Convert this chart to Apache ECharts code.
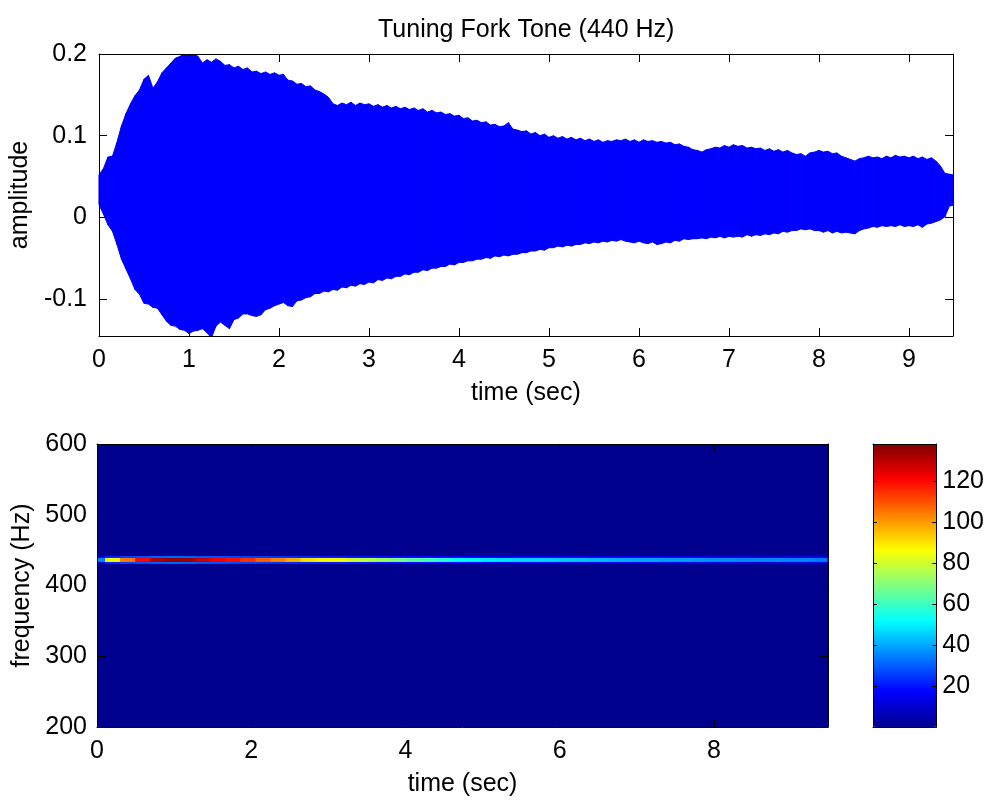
<!DOCTYPE html>
<html>
<head>
<meta charset="utf-8">
<script src="https://cdn.jsdelivr.net/npm/echarts@6/dist/echarts.min.js"></script>
<style>
  html, body { margin: 0; padding: 0; background: #ffffff; }
  #chart { width: 987px; height: 801px; }
</style>
</head>
<body>
<div id="chart"></div>
<script>
// ---------- DATA ----------
const titleText = 'Tuning Fork Tone (440 Hz)';
const timeLabel = 'time (sec)';
const ampLabel = 'amplitude';
const freqLabel = 'frequency (Hz)';

// waveform envelope, one sample every 0.05 s from 0 to 9.5 s
const envStep = 0.05;
const envUpper = [
  0.052,0.060,0.074,0.075,0.092,0.112,0.127,0.139,0.149,0.156,0.169,0.174,0.158,0.166,0.177,0.183,0.189,0.195,0.197,0.201,
  0.200,0.202,0.197,0.189,0.193,0.190,0.194,0.191,0.186,0.187,0.183,0.185,0.181,0.183,0.178,0.179,0.176,0.178,0.175,0.177,
  0.174,0.175,0.168,0.167,0.163,0.164,0.160,0.161,0.156,0.154,0.151,0.147,0.139,0.137,0.140,0.138,0.141,0.137,0.140,0.138,
  0.139,0.136,0.138,0.135,0.137,0.134,0.136,0.133,0.135,0.132,0.134,0.131,0.133,0.129,0.131,0.128,0.129,0.126,0.127,0.124,
  0.125,0.121,0.122,0.118,0.119,0.116,0.117,0.113,0.114,0.111,0.112,0.116,0.108,0.107,0.105,0.106,0.102,0.104,0.100,0.102,
  0.098,0.100,0.097,0.099,0.096,0.098,0.095,0.097,0.094,0.096,0.093,0.095,0.092,0.094,0.093,0.095,0.094,0.096,0.093,0.095,
  0.092,0.095,0.093,0.094,0.092,0.093,0.091,0.092,0.089,0.090,0.087,0.086,0.083,0.082,0.080,0.083,0.084,0.086,0.085,0.088,
  0.086,0.089,0.087,0.088,0.085,0.086,0.084,0.085,0.082,0.084,0.081,0.083,0.080,0.082,0.079,0.077,0.078,0.075,0.079,0.080,
  0.082,0.080,0.081,0.078,0.079,0.075,0.073,0.071,0.069,0.072,0.073,0.075,0.073,0.074,0.072,0.075,0.073,0.076,0.074,0.075,
  0.073,0.075,0.072,0.074,0.071,0.073,0.069,0.063,0.054,0.053,0.052
];
const envLower = [
  0.016,0.004,-0.009,-0.017,-0.033,-0.051,-0.063,-0.075,-0.088,-0.094,-0.105,-0.106,-0.110,-0.111,-0.119,-0.127,-0.132,-0.133,-0.137,-0.138,
  -0.142,-0.139,-0.138,-0.136,-0.141,-0.147,-0.133,-0.128,-0.132,-0.136,-0.125,-0.123,-0.118,-0.118,-0.120,-0.121,-0.119,-0.113,-0.111,-0.108,
  -0.106,-0.104,-0.108,-0.109,-0.102,-0.101,-0.098,-0.097,-0.093,-0.093,-0.090,-0.091,-0.088,-0.089,-0.085,-0.086,-0.083,-0.084,-0.081,-0.082,
  -0.079,-0.080,-0.076,-0.077,-0.074,-0.075,-0.072,-0.072,-0.069,-0.070,-0.067,-0.067,-0.064,-0.065,-0.062,-0.062,-0.060,-0.060,-0.057,-0.058,
  -0.055,-0.055,-0.053,-0.053,-0.051,-0.051,-0.049,-0.050,-0.047,-0.048,-0.046,-0.047,-0.045,-0.045,-0.043,-0.043,-0.041,-0.041,-0.039,-0.040,
  -0.037,-0.037,-0.035,-0.036,-0.034,-0.035,-0.033,-0.033,-0.031,-0.032,-0.030,-0.031,-0.029,-0.030,-0.028,-0.029,-0.027,-0.029,-0.030,-0.031,
  -0.029,-0.031,-0.032,-0.030,-0.033,-0.032,-0.030,-0.031,-0.028,-0.029,-0.026,-0.027,-0.026,-0.026,-0.025,-0.026,-0.024,-0.025,-0.023,-0.025,
  -0.023,-0.024,-0.023,-0.024,-0.021,-0.023,-0.021,-0.022,-0.020,-0.021,-0.019,-0.020,-0.017,-0.018,-0.016,-0.016,-0.014,-0.015,-0.014,-0.016,
  -0.016,-0.018,-0.016,-0.019,-0.017,-0.019,-0.018,-0.019,-0.020,-0.016,-0.014,-0.013,-0.011,-0.012,-0.010,-0.011,-0.010,-0.011,-0.009,-0.011,
  -0.010,-0.011,-0.009,-0.012,-0.008,-0.007,-0.005,-0.003,0.001,0.014,0.015
];

// spectrogram: time columns (start + width), frequency bin edges (Hz), magnitudes
const specStart = -0.09;
const specStep = 0.195;
const freqEdges = [430.5, 433.3, 436.1, 438.9, 441.7];
const lineMain = [35,86,104,120,132,136,134,128,122,119,114,108,103,97,90,87,85,80,77,73,68,64,61,57,53,51,49,48,47,47,46,45,44,43,42,41,40,40,39,39,38,37,37,36,36,36,35,35,34,25];
const lineHalo = [10,22,26,28,30,31,30,29,28,27,26,25,24,23,22,21,21,20,20,19,19,18,18,17,17,17,16,16,16,16,16,15,15,15,15,15,15,14,14,14,14,14,14,14,13,13,13,13,13,10];
const rowKind = ['halo', 'main', 'main', 'halo'];

// tick labels
const wavTimeTicks = [0,1,2,3,4,5,6,7,8,9];
const ampTicks = [-0.1, 0, 0.1, 0.2];
const freqTicks = [200,300,400,500,600];
const specTimeTicks = [0,2,4,6,8];
const colorTicks = [20,40,60,80,100,120];
const jet = ['#00008F','#0000FF','#0080FF','#00FFFF','#80FF80','#FFFF00','#FF8000','#FF0000','#800000'];

// ---------- BUILD ----------
const envTime = envUpper.map((_, i) => +(i * envStep).toFixed(3));
const waveData = envTime.map((t, i) => [t, envUpper[i], envLower[i]]);
const specData = [];
lineMain.forEach((v, k) => {
  const t0 = specStart + k * specStep, t1 = t0 + specStep;
  rowKind.forEach((kind, r) => {
    specData.push([t0, t1, freqEdges[r], freqEdges[r + 1], kind === 'main' ? v : lineHalo[k]]);
  });
});

const FONT = "'Liberation Sans', Arial, sans-serif";
const FS = 25;
const lineStyle = { color: '#000', width: 1 };
function baseAxis(grid, min, max, ticks, pos, labels) {
  return {
    type: 'value', gridIndex: grid, min: min, max: max, position: pos, z: 10,
    axisLine: { show: true, onZero: false, lineStyle: lineStyle },
    axisTick: { show: ticks.length > 0, inside: true, length: 8, lineStyle: lineStyle, customValues: ticks },
    axisLabel: { show: labels, customValues: ticks, margin: 12, color: '#000', fontFamily: FONT, fontSize: FS },
    splitLine: { show: false }
  };
}
const nameStyle = { fontFamily: FONT, fontSize: FS, color: '#000' };

const chart = echarts.init(document.getElementById('chart'), null, { renderer: 'canvas' });
const yFreq = baseAxis(1, 200, 600, freqTicks, 'left', true);
yFreq.axisLabel.margin = 10;
const yCbLeft = baseAxis(2, 0, 138, colorTicks, 'left', false);
yCbLeft.axisTick.length = 4;
const yCbRight = baseAxis(2, 0, 138, colorTicks, 'right', true);
yCbRight.axisTick.length = 4;
yCbRight.axisLabel.margin = 6;

const option = {
  animation: false,
  backgroundColor: '#ffffff',
  title: {
    text: titleText, left: 373, top: 13,
    textStyle: { fontFamily: FONT, fontSize: FS, fontWeight: 'normal', color: '#000' }
  },
  grid: [
    { left: 98, top: 54, width: 855, height: 282, show: false },
    { left: 97, top: 444, width: 731, height: 283, show: true, backgroundColor: jet[0], borderWidth: 0 },
    { left: 873, top: 444, width: 64, height: 283, show: false }
  ],
  xAxis: [
    Object.assign(baseAxis(0, 0, 9.49, wavTimeTicks, 'bottom', true),
      { name: timeLabel, nameLocation: 'middle', nameGap: 45, nameTextStyle: nameStyle }),
    baseAxis(0, 0, 9.49, wavTimeTicks, 'top', false),
    Object.assign(baseAxis(1, 0, 9.48, specTimeTicks, 'bottom', true),
      { name: timeLabel, nameLocation: 'middle', nameGap: 45, nameTextStyle: nameStyle }),
    baseAxis(1, 0, 9.48, specTimeTicks, 'top', false),
    baseAxis(2, 0, 1, [], 'bottom', false),
    baseAxis(2, 0, 1, [], 'top', false)
  ],
  yAxis: [
    Object.assign(baseAxis(0, -0.145, 0.2, ampTicks, 'left', true),
      { name: ampLabel, nameLocation: 'middle', nameGap: 61, nameRotate: 90, nameTextStyle: nameStyle }),
    baseAxis(0, -0.145, 0.2, ampTicks, 'right', false),
    Object.assign(yFreq,
      { name: freqLabel, nameLocation: 'middle', nameGap: 61, nameRotate: 90, nameTextStyle: nameStyle }),
    baseAxis(1, 200, 600, freqTicks, 'right', false),
    yCbLeft,
    yCbRight
  ],
  visualMap: {
    type: 'continuous', min: 0, max: 138, dimension: 4, seriesIndex: 1,
    orient: 'vertical', left: 873, top: 444, itemWidth: 64, itemHeight: 283,
    padding: 0, calculable: false, hoverLink: false,
    inRange: { color: jet }
  },
  series: [
    {
      type: 'custom', name: 'waveform', xAxisIndex: 0, yAxisIndex: 0, clip: true,
      encode: { x: 0, y: [1, 2] },
      data: waveData,
      renderItem: function (params, api) {
        const i = params.dataIndex;
        if (i >= waveData.length - 1) return null;
        const a = api.coord([waveData[i][0], waveData[i][1]]);
        const b = api.coord([waveData[i + 1][0], waveData[i + 1][1]]);
        const c = api.coord([waveData[i + 1][0], waveData[i + 1][2]]);
        const d = api.coord([waveData[i][0], waveData[i][2]]);
        return {
          type: 'polygon', shape: { points: [a, b, c, d] },
          style: { fill: '#0000FF', stroke: '#0000FF', lineWidth: 1 }
        };
      }
    },
    {
      type: 'custom', name: 'spectrogram', xAxisIndex: 2, yAxisIndex: 2, clip: true,
      encode: { x: [0, 1], y: [2, 3] },
      data: specData,
      renderItem: function (params, api) {
        const p0 = api.coord([api.value(0), api.value(3)]);
        const p1 = api.coord([api.value(1), api.value(2)]);
        return {
          type: 'rect',
          shape: { x: p0[0], y: p0[1], width: p1[0] - p0[0] + 0.6, height: p1[1] - p0[1] },
          style: { fill: api.visual('color') }
        };
      }
    }
  ]
};
chart.setOption(option);
</script>
</body>
</html>
